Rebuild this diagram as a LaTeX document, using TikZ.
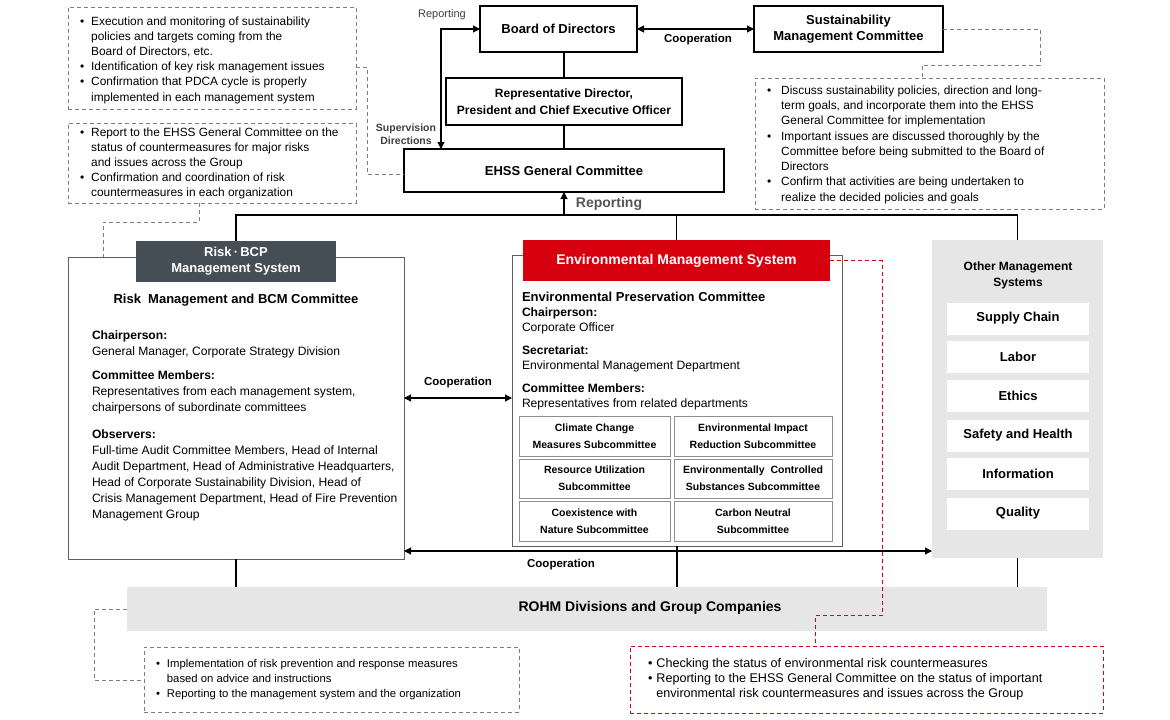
\documentclass[tikz,border=0pt]{standalone}
\usepackage{fontspec}
\setmainfont{Liberation Sans}
\usetikzlibrary{calc,arrows.meta}
\definecolor{slate}{HTML}{454D55}
\definecolor{ered}{HTML}{D7000F}
\definecolor{lgray}{HTML}{E6E6E6}
\definecolor{dgray}{HTML}{7F7F7F}
\definecolor{boxgray}{HTML}{5B6168}
\definecolor{subgray}{HTML}{8E8E8E}
\definecolor{txtgray}{HTML}{404040}
\definecolor{repgray}{HTML}{555555}
\newcommand\bl{\textbullet}
\begin{document}
\begin{tikzpicture}[x=1pt,y=-1pt,
  line width=1.1pt,
  every node/.style={outer sep=0pt, inner sep=0pt},
  blk/.style={draw=black, line width=1.1pt, align=center, font=\bfseries\fontsize{13}{16}\selectfont},
  arr/.style={-{Triangle[length=7pt,width=7pt]}},
  darr/.style={{Triangle[length=7pt,width=7pt]}-{Triangle[length=7pt,width=7pt]}},
  gdash/.style={draw=dgray, line width=0.9pt, dash pattern=on 4pt off 3pt},
  rdash/.style={draw=ered, line width=0.9pt, dash pattern=on 4pt off 3pt},
  subbox/.style={draw=subgray, line width=1pt, align=center, font=\bfseries\fontsize{10.5}{17}\selectfont},
  omsitem/.style={fill=white, minimum width=142pt, minimum height=32pt, font=\bfseries\fontsize{13}{16}\selectfont},
  coop/.style={font=\bfseries\fontsize{11.5}{14}\selectfont},
  btxt/.style={anchor=north west, font=\fontsize{11.9}{15.2}\selectfont}
]
\useasboundingbox (0,0) rectangle (1170,720);
\fill[white] (0,0) rectangle (1170,720);

% top nodes
\node[blk, minimum width=157pt, minimum height=46pt] (bod) at (558.5,29) {Board of Directors};
\node[blk, minimum width=189pt, minimum height=46pt] (smc) at (848.5,29) {Sustainability\\Management Committee};
\node[blk, font=\bfseries\fontsize{12}{17}\selectfont, minimum width=236pt, minimum height=47pt] (rep) at (564,101.5) {Representative Director,\\President and Chief Executive Officer};
\node[blk, minimum width=320pt, minimum height=43pt] (ehss) at (564,170.5) {EHSS General Committee};

% dashed note boxes
\node[gdash, minimum width=288pt, minimum height=102pt] (tl1) at (212,58) {};
\node[gdash, minimum width=288pt, minimum height=80pt] (tl2) at (212,163) {};
\node[gdash, minimum width=349pt, minimum height=131pt] (tr) at (929.5,143.5) {};
\node[gdash, minimum width=375pt, minimum height=65pt] (bl) at (331.5,679.5) {};
\node[rdash, minimum width=473pt, minimum height=67pt] (br) at (866.5,679.5) {};

\node[btxt] (tl1t) at (80,14.4) {\begin{tabular}{@{}l@{\hspace{7pt}}l@{}}
\bl & Execution and monitoring of sustainability\\
 & policies and targets coming from the\\
 & Board of Directors, etc.\\
\bl & Identification of key risk management issues\\
\bl & Confirmation that PDCA cycle is properly\\
 & implemented in each management system
\end{tabular}};
\node[btxt, font=\fontsize{11.9}{15}\selectfont] (tl2t) at (80,126.4) {\begin{tabular}{@{}l@{\hspace{7pt}}l@{}}
\bl & Report to the EHSS General Committee on the\\
 & status of countermeasures for major risks\\
 & and issues across the Group\\
\bl & Confirmation and coordination of risk\\
 & countermeasures in each organization
\end{tabular}};
\node[btxt, font=\fontsize{11.9}{15.3}\selectfont] (trt) at (767,83.4) {\begin{tabular}{@{}l@{\hspace{10pt}}l@{}}
\bl & Discuss sustainability policies, direction and long-\\
 & term goals, and incorporate them into the EHSS\\
 & General Committee for implementation\\
\bl & Important issues are discussed thoroughly by the\\
 & Committee before being submitted to the Board of\\
 & Directors\\
\bl & Confirm that activities are being undertaken to\\
 & realize the decided policies and goals
\end{tabular}};
\node[btxt, font=\fontsize{11.3}{15}\selectfont] (blt) at (156,657.4) {\begin{tabular}{@{}l@{\hspace{7pt}}l@{}}
\bl & Implementation of risk prevention and response measures\\
 & based on advice and instructions\\
\bl & Reporting to the management system and the organization
\end{tabular}};
\node[btxt, font=\fontsize{12.6}{15}\selectfont] (brt) at (648,657.4) {\begin{tabular}{@{}l@{\hspace{4pt}}l@{}}
\bl & Checking the status of environmental risk countermeasures\\
\bl & Reporting to the EHSS General Committee on the status of important\\
 & environmental risk countermeasures and issues across the Group
\end{tabular}};

% Risk system
\node[draw=boxgray, line width=1pt, minimum width=336pt, minimum height=302pt] (rbox) at (236,408) {};
\node[fill=slate, text=white, align=center, font=\bfseries\fontsize{13}{16}\selectfont, minimum width=200pt, minimum height=41pt] (rhead) at (236,261.5) {Risk\,·\,BCP\\Management System};
\node[font=\bfseries\fontsize{13}{16}\selectfont] (rtitle) at (236,300) {Risk\ \ Management and BCM Committee};
\node[anchor=north west, font=\fontsize{12.1}{16}\selectfont] (rtxt) at (92,327.8) {\begin{tabular}{@{}l@{}}
\textbf{Chairperson:}\\
General Manager, Corporate Strategy Division\\[8pt]
\textbf{Committee Members:}\\
Representatives from each management system,\\
chairpersons of subordinate committees\\[11pt]
\textbf{Observers:}\\
Full-time Audit Committee Members, Head of Internal\\
Audit Department, Head of Administrative Headquarters,\\
Head of Corporate Sustainability Division, Head of\\
Crisis Management Department, Head of Fire Prevention\\
Management Group
\end{tabular}};

% Environmental system
\node[draw=boxgray, line width=1pt, minimum width=330pt, minimum height=291pt] (ebox) at (677,400.5) {};
\node[fill=ered, text=white, font=\bfseries\fontsize{14}{17}\selectfont, minimum width=307pt, minimum height=41pt] (ehead) at (676.5,260.5) {Environmental Management System};
\node[anchor=north west, font=\fontsize{12.1}{15}\selectfont] (etxt) at (522,290.5) {\begin{tabular}{@{}l@{}}
{\bfseries\fontsize{13}{15}\selectfont Environmental Preservation Committee}\\
\textbf{Chairperson:}\\
Corporate Officer\\[8pt]
\textbf{Secretariat:}\\
Environmental Management Department\\[8pt]
\textbf{Committee Members:}\\
Representatives from related departments
\end{tabular}};
\node[subbox, minimum width=151pt, minimum height=40pt] (s1) at (594.5,436) {Climate Change\\Measures Subcommittee};
\node[subbox, minimum width=158pt, minimum height=40pt] (s2) at (753,436) {Environmental Impact\\Reduction Subcommittee};
\node[subbox, minimum width=151pt, minimum height=39pt] (s3) at (594.5,478.5) {Resource Utilization\\Subcommittee};
\node[subbox, minimum width=158pt, minimum height=39pt] (s4) at (753,478.5) {Environmentally\ \ Controlled\\Substances Subcommittee};
\node[subbox, minimum width=151pt, minimum height=40pt] (s5) at (594.5,521) {Coexistence with\\Nature Subcommittee};
\node[subbox, minimum width=158pt, minimum height=40pt] (s6) at (753,521) {Carbon Neutral\\Subcommittee};

% Other management systems
\node[fill=lgray, minimum width=171pt, minimum height=318pt] (oth) at (1017.5,399) {};
\node[align=center, font=\bfseries\fontsize{12}{16}\selectfont] (otitle) at (1018,275) {Other Management\\Systems};
\node[omsitem] (o1) at (1018,318.5) {Supply Chain};
\node[omsitem] (o2) at (1018,356.5) {Labor};
\node[omsitem] (o3) at (1018,396) {Ethics};
\node[omsitem] (o4) at (1018,435.5) {Safety and Health};
\node[omsitem] (o5) at (1018,474) {Information};
\node[omsitem] (o6) at (1018,513.5) {Quality};

% ROHM bar
\node[fill=lgray, minimum width=920pt, minimum height=44pt] (rohm) at (587,609) {};
\node[font=\bfseries\fontsize{14}{17}\selectfont] (rohmt) at (650,608) {ROHM Divisions and Group Companies};

% labels
\node[font=\fontsize{11}{13}\selectfont, text=txtgray] (lrep) at (442,15) {Reporting};
\node[align=center, font=\bfseries\fontsize{10.5}{13}\selectfont, text=txtgray] (lsup) at (406,134.5) {Supervision\\Directions};
\node[coop] (lc1) at (698,40) {Cooperation};
\node[font=\bfseries\fontsize{14}{17}\selectfont, text=repgray] (lrep2) at (609,204) {Reporting};
\node[coop] (lc2) at (458,383) {Cooperation};
\node[coop] (lc3) at (561,565) {Cooperation};

% solid connectors
\draw[darr] (bod.east) -- (smc.west);
\draw (rep.north |- bod.south) -- (rep.north);
\draw (rep.south) -- (ehss.north);
\coordinate (c10) at (441,29);
\draw[darr] (bod.west) -- (c10) -- (c10 |- ehss.north);
\coordinate (bus) at (0,215);
\draw (rhead.north) -- (rhead.north |- bus) -- (oth.north |- bus) -- (oth.north);
\draw (ehead.north) -- (ehead.north |- bus);
\draw[arr] (ehss.south |- bus) -- (ehss.south);
\coordinate (ya) at (0,398);
\draw[darr] (rbox.east |- ya) -- (ebox.west |- ya);
\coordinate (yb) at (0,551);
\draw[darr] (rbox.east |- yb) -- (oth.west |- yb);
\draw (rbox.south) -- (rbox.south |- rohm.north);
\draw (ebox.south) -- (ebox.south |- rohm.north);
\draw (oth.south) -- (oth.south |- rohm.north);

% dashed connectors
\coordinate (c1) at (367,67);
\coordinate (c2) at (367,174);
\draw[gdash] ($(tl1.east)+(0,9)$) -- (c1) -- (c2) -- (c2 -| ehss.west);
\coordinate (c3) at (199,222);
\coordinate (c4) at (103,222);
\draw[gdash] (tl2.south -| c3) -- (c3) -- (c4) -- (c4 |- rbox.north);
\coordinate (c5) at (1040,65);
\coordinate (c6) at (922,65);
\draw[gdash] (smc.east) -| (c5) -- (c6) -- (c6 |- tr.north);
\coordinate (c7) at (94,680);
\draw[gdash] (rohm.west) -| (c7) -- (c7 -| bl.west);
\coordinate (c8) at (882,615);
\coordinate (c9) at (815,615);
\draw[rdash] (ehead.east) -| (c8) -- (c9) -- (c9 |- br.north);
\end{tikzpicture}
\end{document}
